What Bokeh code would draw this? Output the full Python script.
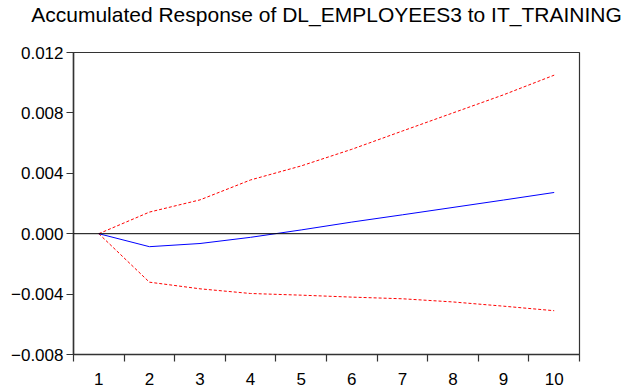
from bokeh.plotting import figure
from bokeh.models import Range1d, FixedTicker, Span, LinearAxis
from bokeh.embed import file_html
from bokeh.resources import INLINE

periods = [1, 2, 3, 4, 5, 6, 7, 8, 9, 10]
response = [0.0, -0.00086, -0.00065, -0.00024, 0.00025, 0.00077, 0.00125, 0.00174, 0.00223, 0.00273]
upper = [0.0, 0.00143, 0.00224, 0.00356, 0.00449, 0.00559, 0.0068, 0.0080, 0.0092, 0.0105]
lower = [0.0, -0.00321, -0.00365, -0.00396, -0.00407, -0.0042, -0.00431, -0.00452, -0.0048, -0.0051]
y_ticks = [-0.008, -0.004, 0.0, 0.004, 0.008, 0.012]
y_tick_labels = ["\u22120.008", "\u22120.004", "0.000", "0.004", "0.008", "0.012"]
title_text = "Accumulated Response of DL_EMPLOYEES3 to IT_TRAINING"

FONT = "Liberation Sans"
AXIS_COLOR = "#333333"

p = figure(width=622, height=387, output_backend="svg", toolbar_location=None,
           x_range=Range1d(0.5, 10.5), y_range=Range1d(-0.008, 0.012),
           min_border_left=73, min_border_right=43, min_border_top=52, min_border_bottom=32)
p.title.text = title_text
p.title.align = "center"
p.title.text_font = FONT
p.title.text_font_size = "21px"
p.title.text_font_style = "normal"
p.title.text_color = "black"
p.title.standoff = 0

xa = p.below[0]
ya = p.left[0]

# invisible spacer axis between title and frame (same layout as the tested version)
spacer = LinearAxis(ticker=FixedTicker(ticks=periods), axis_line_color=None,
                    major_tick_out=27, major_tick_in=0, major_tick_line_color=None,
                    minor_tick_out=0, minor_tick_in=0, minor_tick_line_color=None,
                    major_label_standoff=0, major_label_text_alpha=0)
p.add_layout(spacer, "above")

p.xgrid.visible = False
p.ygrid.visible = False
p.outline_line_color = AXIS_COLOR
p.outline_line_width = 1.2
p.background_fill_color = "white"
p.border_fill_color = "white"

boundaries = [v - 0.5 for v in periods] + [periods[-1] + 0.5]
xa.ticker = FixedTicker(ticks=periods, minor_ticks=boundaries)
xa.major_tick_out = 0
xa.major_tick_in = 0
xa.minor_tick_out = 7
xa.minor_tick_in = 0
xa.minor_tick_line_color = AXIS_COLOR
xa.minor_tick_line_width = 1.2
xa.major_label_standoff = 11

ya.ticker = FixedTicker(ticks=y_ticks, minor_ticks=[])
ya.major_label_overrides = {t: l for t, l in zip(y_ticks, y_tick_labels)}
ya.major_tick_out = 7
ya.major_tick_in = 0
ya.minor_tick_out = 0
ya.minor_tick_in = 0
ya.major_label_standoff = 3

for ax in (xa, ya):
    ax.axis_line_color = AXIS_COLOR
    ax.axis_line_width = 1.5
    ax.major_tick_line_color = AXIS_COLOR
    ax.major_tick_line_width = 1.2
    ax.major_label_text_font = FONT
    ax.major_label_text_font_size = "17px"
    ax.major_label_text_color = "black"

p.add_layout(Span(location=0, dimension="width", line_color="black", line_width=1))

p.line(periods, upper, line_color="red", line_width=1, line_dash="3 2")
p.line(periods, lower, line_color="red", line_width=1, line_dash="3 2")
p.line(periods, response, line_color="blue", line_width=1)

open("out.html", "w").write(file_html(p, INLINE))
